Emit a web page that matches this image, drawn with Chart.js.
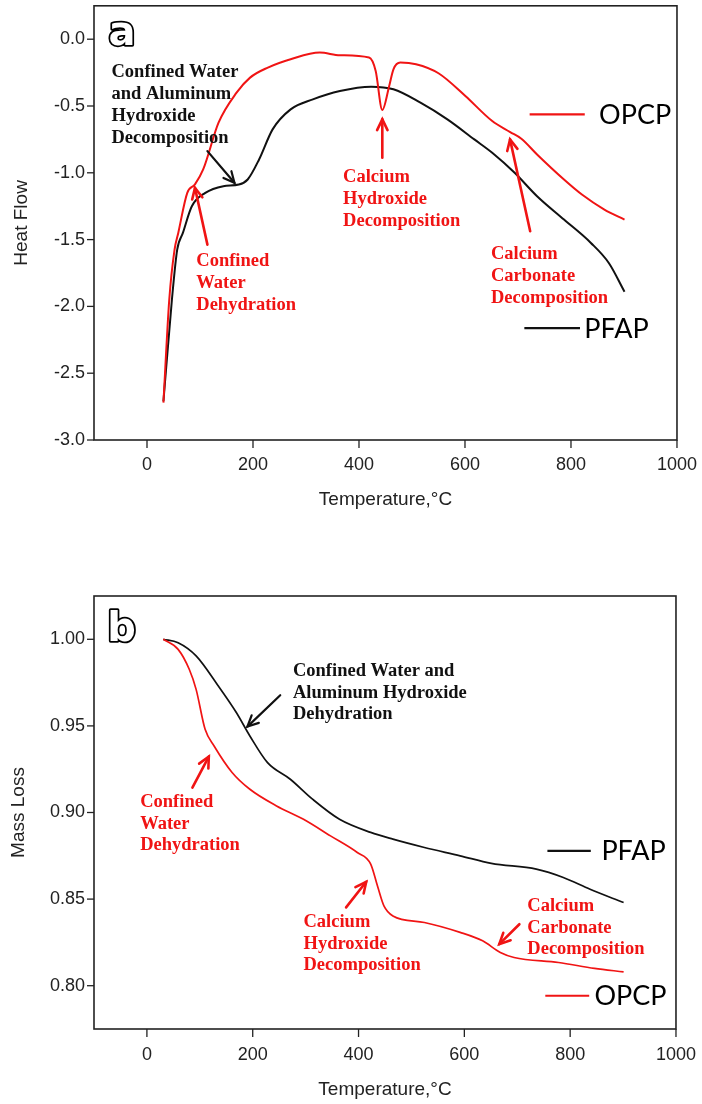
<!DOCTYPE html>
<html><head><meta charset="utf-8">
<script src="https://cdn.jsdelivr.net/npm/chart.js@4/dist/chart.umd.min.js"></script>
<style>
html,body{margin:0;padding:0;background:#fff;width:702px;height:1104px;overflow:hidden;position:relative;}
canvas{position:absolute;left:0;}
#cA{top:-14px;}
#cB{top:540px;}
</style></head><body>
<canvas id="cA" width="711" height="554"></canvas>
<canvas id="cB" width="711" height="564"></canvas>
<script>
// ---------- data ----------
const series = ['OPCP', 'PFAP'];
const xTickLabels = ['0', '200', '400', '600', '800', '1000'];
const heatTickLabels = ['0.0', '-0.5', '-1.0', '-1.5', '-2.0', '-2.5', '-3.0'];
const massTickLabels = ['1.00', '0.95', '0.90', '0.85', '0.80'];

// (a) Heat flow
const heatTempOPCP = [31, 42, 52, 59, 76, 90.5, 106, 135, 169, 194.5, 228, 271, 326, 364, 419, 431.5, 444, 457, 465, 478, 507.6, 550, 600.7, 651.4, 685.3, 706.4, 736, 786.8, 820.6, 863, 901];
const heatFlowOPCP = [-2.72, -1.95, -1.575, -1.45, -1.15, -1.087, -0.975, -0.625, -0.40, -0.2875, -0.2125, -0.15, -0.10, -0.12, -0.1375, -0.2375, -0.53, -0.35, -0.225, -0.175, -0.1875, -0.255, -0.425, -0.6125, -0.695, -0.745, -0.8625, -1.05, -1.1625, -1.275, -1.35];
const heatTempPFAP = [31, 47, 57, 67.7, 84.6, 110, 144, 173.4, 190, 211.5, 237, 271, 313, 364, 423, 465, 516, 566.8, 617.6, 651.4, 693.7, 736, 786.8, 837.6, 871.4, 901];
const heatFlowPFAP = [-2.71, -1.95, -1.575, -1.45, -1.25, -1.15, -1.10, -1.0875, -1.05, -0.90, -0.675, -0.525, -0.45, -0.3875, -0.355, -0.375, -0.475, -0.60, -0.75, -0.85, -1.0, -1.175, -1.35, -1.525, -1.675, -1.89];

// (b) Mass loss
const massTempOPCP = [31, 59, 80, 93, 110, 127, 161, 194.6, 245, 296, 347, 397.6, 423, 435.7, 448, 465, 524.5, 592, 634.5, 668, 694, 778, 846, 901];
const massOPCP = [1.000, 0.9942, 0.9827, 0.9711, 0.948, 0.9384, 0.9231, 0.9134, 0.9038, 0.8961, 0.8865, 0.8769, 0.8702, 0.8577, 0.8461, 0.8403, 0.8365, 0.8308, 0.8259, 0.8192, 0.8163, 0.8134, 0.81, 0.808];
const massTempPFAP = [31, 59, 93, 135, 169, 194.6, 228, 271, 313, 364, 423, 465, 524.5, 592, 651, 736, 787, 837.6, 901];
const massPFAP = [1.000, 0.998, 0.9904, 0.973, 0.9577, 0.9442, 0.9288, 0.9192, 0.9077, 0.8961, 0.8885, 0.8846, 0.8798, 0.875, 0.8706, 0.8673, 0.8625, 0.8557, 0.848];

// ---------- helpers ----------
const RED = '#f01414';
const BLACK = '#111';
const pts = (xs, ys) => xs.map((x, i) => ({x: x, y: ys[i]}));
Chart.defaults.font.family = '"Liberation Sans", Arial, sans-serif';
Chart.defaults.color = '#222';

function labelFor(list, v, dec) {
  const s = dec === 0 ? String(Math.round(v)) : (Math.abs(v) < 1e-9 ? (0).toFixed(dec) : v.toFixed(dec));
  const ok = list.some(l => Math.abs(parseFloat(l) - v) < 1e-6);
  return ok ? s : null;
}

const decor = {
  id: 'decor',
  afterDatasetsDraw(chart, args, o) {
    const ctx = chart.ctx, xs = chart.scales.x, ys = chart.scales.y, a = chart.chartArea;
    const X = v => xs.getPixelForValue(v), Y = v => ys.getPixelForValue(v);
    const seg = (x1, y1, x2, y2) => { ctx.beginPath(); ctx.moveTo(x1, y1); ctx.lineTo(x2, y2); ctx.stroke(); };
    ctx.save();
    ctx.strokeStyle = '#222'; ctx.lineWidth = 1.6;
    ctx.strokeRect(a.left, a.top, a.right - a.left, a.bottom - a.top);
    ctx.lineWidth = 1.3;
    xs.ticks.forEach(t => { const p = X(t.value); seg(p, a.bottom, p, a.bottom + (t.label != null ? 8 : 4)); });
    ys.ticks.forEach(t => { const p = Y(t.value); seg(a.left, p, a.left - (t.label != null ? 7 : 4), p); });
    // annotation texts
    ctx.textAlign = 'left'; ctx.textBaseline = 'middle';
    ctx.font = 'bold 18.5px "Liberation Serif", "Times New Roman", serif';
    o.texts.forEach(t => {
      ctx.fillStyle = t.color;
      t.lines.forEach((ln, i) => ctx.fillText(ln, X(t.x), Y(t.y) + i * o.lineGap));
    });
    // arrows
    o.arrows.forEach(ar => {
      const x1 = X(ar.x1), y1 = Y(ar.y1), x2 = X(ar.x2), y2 = Y(ar.y2);
      ctx.strokeStyle = ar.color; ctx.lineWidth = ar.color === RED ? 2.6 : 2.2; ctx.lineCap = 'round';
      seg(x1, y1, x2, y2);
      const ang = Math.atan2(y2 - y1, x2 - x1), L = 12, w = 0.45;
      ctx.beginPath();
      ctx.moveTo(x2 - L * Math.cos(ang - w), y2 - L * Math.sin(ang - w));
      ctx.lineTo(x2, y2);
      ctx.lineTo(x2 - L * Math.cos(ang + w), y2 - L * Math.sin(ang + w));
      ctx.stroke();
    });
    // legend entries
    ctx.lineCap = 'butt';
    o.legend.forEach(l => {
      ctx.strokeStyle = l.color; ctx.lineWidth = 2.2;
      seg(X(l.x1), Y(l.y), X(l.x2), Y(l.y));
      ctx.fillStyle = '#000';
      ctx.font = '27px Lato, "Noto Sans", sans-serif';
      ctx.textBaseline = 'middle';
      ctx.fillText(l.label, X(l.tx), Y(l.y) + 1);
    });
    // panel letter
    ctx.font = 'bold 40px "DejaVu Sans", sans-serif';
    ctx.textBaseline = 'alphabetic'; ctx.textAlign = 'center';
    ctx.lineJoin = 'round'; ctx.lineWidth = 3.5; ctx.strokeStyle = '#000';
    ctx.strokeText(o.letter.text, X(o.letter.x), Y(o.letter.y));
    ctx.fillStyle = '#fff';
    ctx.fillText(o.letter.text, X(o.letter.x), Y(o.letter.y));
    ctx.restore();
  }
};

function makeChart(id, cfg) {
  return new Chart(document.getElementById(id), {
    type: 'line',
    data: {
      datasets: [
        {label: series[0], data: cfg.opcp, borderColor: RED, borderWidth: cfg.lw, pointRadius: 0, cubicInterpolationMode: 'monotone', fill: false},
        {label: series[1], data: cfg.pfap, borderColor: BLACK, borderWidth: cfg.lw, pointRadius: 0, cubicInterpolationMode: 'monotone', fill: false}
      ]
    },
    options: {
      responsive: false, animation: false, devicePixelRatio: 1,
      layout: {padding: {top: cfg.padTop, right: 25, left: 0, bottom: 0}},
      plugins: {legend: {display: false}, tooltip: {enabled: false}, decor: cfg.decor},
      scales: {
        x: {
          type: 'linear', min: -100, max: 1000,
          grid: {display: false, drawTicks: false}, border: {display: false},
          ticks: {stepSize: 100, autoSkip: false, maxRotation: 0, padding: cfg.xPad, font: {size: 18}, color: '#222',
            callback: v => labelFor(xTickLabels, v, 0)},
          title: {display: true, text: 'Temperature,°C', font: {size: 19}, color: '#222', padding: {top: 0, bottom: cfg.xTitlePad}},
          afterFit: s => { s.height = cfg.xH; }
        },
        y: {
          type: 'linear', min: cfg.yMin, max: cfg.yMax,
          grid: {display: false, drawTicks: false}, border: {display: false},
          ticks: {stepSize: cfg.yStep, autoSkip: false, padding: 9, font: {size: 18}, color: '#222',
            callback: v => labelFor(cfg.yLabels, v, cfg.yDec)},
          title: {display: true, text: cfg.yTitle, font: {size: 19}, color: '#222', padding: {top: cfg.yTitlePad, bottom: 0}},
          afterFit: s => { s.width = 94; }
        }
      }
    },
    plugins: [decor]
  });
}

makeChart('cA', {
  opcp: pts(heatTempOPCP, heatFlowOPCP), pfap: pts(heatTempPFAP, heatFlowPFAP), lw: 2,
  padTop: 6, xPad: 14, xTitlePad: 29, xH: 100,
  yMin: -3.0, yMax: 0.25, yStep: 0.25, yLabels: heatTickLabels, yDec: 1, yTitle: 'Heat Flow', yTitlePad: 10,
  decor: {
    lineGap: 22,
    texts: [
      {x: -67, y: -0.2475, color: BLACK, lines: ['Confined Water', 'and Aluminum', 'Hydroxide', 'Decomposition']},
      {x: 93, y: -1.6625, color: RED, lines: ['Confined', 'Water', 'Dehydration']},
      {x: 370, y: -1.035, color: RED, lines: ['Calcium', 'Hydroxide', 'Decomposition']},
      {x: 649, y: -1.6075, color: RED, lines: ['Calcium', 'Carbonate', 'Decomposition']}
    ],
    arrows: [
      {x1: 114, y1: -0.8375, x2: 165, y2: -1.075, color: BLACK},
      {x1: 114, y1: -1.5375, x2: 90.5, y2: -1.1125, color: RED},
      {x1: 444, y1: -0.8875, x2: 444, y2: -0.60, color: RED},
      {x1: 723, y1: -1.4375, x2: 685, y2: -0.75, color: RED}
    ],
    legend: [
      {x1: 722, x2: 826, y: -0.5625, tx: 853, label: 'OPCP', color: RED},
      {x1: 712, x2: 817, y: -2.1625, tx: 825, label: 'PFAP', color: BLACK}
    ],
    letter: {x: -47, y: -0.04, text: 'a'}
  }
});

makeChart('cB', {
  opcp: pts(massTempOPCP, massOPCP), pfap: pts(massTempPFAP, massPFAP), lw: 1.7,
  padTop: 56, xPad: 15, xTitlePad: 3, xH: 75,
  yMin: 0.775, yMax: 1.025, yStep: 0.025, yLabels: massTickLabels, yDec: 2, yTitle: 'Mass Loss', yTitlePad: 7,
  decor: {
    lineGap: 21.5,
    texts: [
      {x: 276, y: 0.9815, color: BLACK, lines: ['Confined Water and', 'Aluminum Hydroxide', 'Dehydration']},
      {x: -12.7, y: 0.9058, color: RED, lines: ['Confined', 'Water', 'Dehydration']},
      {x: 296, y: 0.8365, color: RED, lines: ['Calcium', 'Hydroxide', 'Decomposition']},
      {x: 719, y: 0.8458, color: RED, lines: ['Calcium', 'Carbonate', 'Decomposition']}
    ],
    arrows: [
      {x1: 252, y1: 0.9677, x2: 190, y2: 0.9496, color: BLACK},
      {x1: 86, y1: 0.9144, x2: 117, y2: 0.9323, color: RED},
      {x1: 376.5, y1: 0.8452, x2: 414.5, y2: 0.86, color: RED},
      {x1: 704, y1: 0.8355, x2: 666, y2: 0.824, color: RED}
    ],
    legend: [
      {x1: 757, x2: 839, y: 0.8779, tx: 859, label: 'PFAP', color: BLACK},
      {x1: 753, x2: 836, y: 0.7942, tx: 846, label: 'OPCP', color: RED}
    ],
    letter: {x: -48, y: 0.9988, text: 'b'}
  }
});
</script>
</body></html>
